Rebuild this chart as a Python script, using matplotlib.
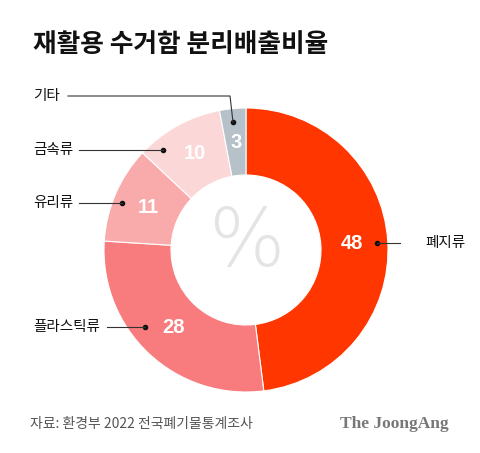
import matplotlib.pyplot as plt
import numpy as np

plt.rcParams['font.family'] = ['Noto Sans CJK KR', 'DejaVu Sans']

# 데이터
categories = ['폐지류', '플라스틱류', '유리류', '금속류', '기타']
values = [48, 28, 11, 10, 3]
colors = ['#ff3600', '#f87b7d', '#f9aaab', '#fcd7d7', '#b6c1c9']

title = '재활용 수거함 분리배출비율'
source = '자료: 환경부 2022 전국폐기물통계조사'

W, H = 480, 453
fig = plt.figure(figsize=(W / 100, H / 100), dpi=100)
ax = fig.add_axes([0, 0, 1, 1])

cx, cy = 246, H - 250
r_out, r_in = 142, 75

wedges, _ = ax.pie(values, colors=colors, startangle=90, counterclock=False,
                   center=(cx, cy), radius=r_out, frame=True,
                   wedgeprops=dict(width=r_out - r_in, edgecolor='white', linewidth=0.8))
ax.set_xlim(0, W)
ax.set_ylim(0, H)
ax.set_aspect('equal')
ax.axis('off')

# 가운데 % 표시
ax.text(cx, cy + 6, '%', ha='center', va='center', fontsize=58, color='#e4e4e4',
        fontweight='light', family='DejaVu Sans')

# 값 라벨과 지시선 (점 위치는 값 라벨 기준 오프셋)
r_mid = 106
dot_off = [(25, 0), (-28, 0), (-27, 5), (-32, 3), (-3, 20)]
name_x = [425, 33, 33, 33, 33]
for w, v, name, (ox, oy), nx in zip(wedges, values, categories, dot_off, name_x):
    ang = np.deg2rad((w.theta1 + w.theta2) / 2)
    lx = cx + r_mid * np.cos(ang)
    ly = cy + r_mid * np.sin(ang)
    if v == 10:
        ly += 4
    if v == 3:
        ly += 2
    ax.text(lx, ly, str(v), ha='center', va='center', fontsize=14.5,
            fontweight='bold', color='white', family='Liberation Sans')
    dx, dy = lx + ox, ly + oy
    ax.plot(dx, dy, 'o', color='#111111', markersize=3)
    if nx > cx:
        ax.plot([dx, nx - 25], [dy, dy], color='#333333', lw=0.8)
        ax.text(nx, dy, name, ha='left', va='center', fontsize=10.5,
                fontweight='medium', color='#111111')
    elif name == '기타':
        ty = H - 96
        ax.plot([68, dx - 3, dx], [ty, ty, dy], color='#333333', lw=0.8)
        ax.text(nx, ty, name, ha='left', va='center', fontsize=10.5,
                fontweight='medium', color='#111111')
    else:
        tw = 14 * len(name)
        ax.plot([nx + tw + 4, dx], [dy, dy], color='#333333', lw=0.8)
        ax.text(nx, dy, name, ha='left', va='center', fontsize=10.5,
                fontweight='medium', color='#111111')

fig.text(33 / W, 1 - 44 / H, title, ha='left', va='center', fontsize=18.5,
         fontweight='heavy', color='#111111')
fig.text(30 / W, 1 - 424 / H, source, ha='left', va='center', fontsize=10,
         color='#555555')
fig.text(449 / W, 1 - 424 / H, 'The JoongAng', ha='right', va='center', fontsize=12.5,
         fontweight='bold', color='#777777', family='Liberation Serif')

fig.savefig('out.png', dpi=100, facecolor='white')
